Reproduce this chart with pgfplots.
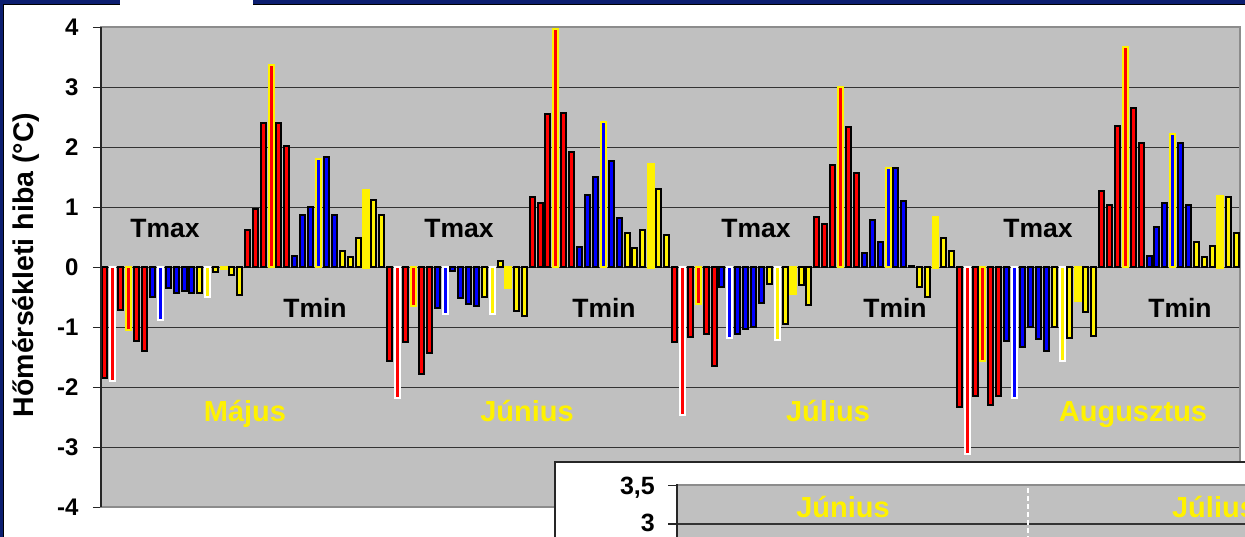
\documentclass[border=0pt]{standalone}
\usepackage{pgfplots}
\pgfplotsset{compat=1.18}
\usetikzlibrary{calc}
\usepackage{fontspec}
\setmainfont{Liberation Sans}
\definecolor{chartgray}{RGB}{192,192,192}
\definecolor{navy}{RGB}{12,30,112}
\definecolor{bordergray}{RGB}{140,140,140}
\begin{document}
\begin{tikzpicture}[x=1pt,y=1pt]
\begin{axis}[
  name=main,
  width=1139pt, height=480pt, scale only axis,
  xmin=-0.5, xmax=143.5, ymin=-4, ymax=4,
  xtick=\empty,
  ytick={-4,-3,-2,-1,0,1,2,3,4},
  yticklabels={-4,-3,-2,-1,0,1,2,3,4},
  ytick pos=left,
  ymajorgrids,
  grid style={line width=1.2pt, black!80},
  axis background/.style={fill=chartgray},
  axis line style={draw=bordergray, line width=2pt},
  tick style={black!85, line width=1.3pt},
  ytick align=outside, major tick length=8pt,
  yticklabel style={font=\bfseries\fontsize{24}{24}\selectfont, anchor=east, xshift=-11pt},
  mybar/.style={ybar, bar width=5pt, bar shift=0pt, line width=2pt},
  clip=true,
]
% red, black border
\addplot[mybar, fill=red, draw=black] coordinates {(0,-1.84)(2,-0.71)(4,-1.23)(5,-1.39)(18,0.62)(19,0.98)(20,2.41)(22,2.41)(23,2.03)(36,-1.56)(38,-1.25)(40,-1.77)(41,-1.42)(54,1.18)(55,1.08)(56,2.56)(58,2.58)(59,1.93)(72,-1.25)(74,-1.16)(76,-1.11)(77,-1.64)(90,0.84)(91,0.73)(92,1.71)(94,2.34)(95,1.57)(108,-2.32)(110,-2.14)(112,-2.29)(113,-2.14)(126,1.27)(127,1.04)(128,2.36)(130,2.66)(131,2.07)};
% red, white border
\addplot[mybar, fill=red, draw=white] coordinates {(1,-1.89)(37,-2.17)(73,-2.46)(109,-3.11)};
% red, yellow border
\addplot[mybar, fill=red, draw=yellow] coordinates {(3,-1.04)(21,3.37)(39,-0.64)(57,3.98)(75,-0.61)(93,3.00)(111,-1.56)(129,3.67)};
% blue, black border
\addplot[mybar, fill=blue, draw=black] coordinates {(6,-0.49)(8,-0.35)(9,-0.42)(10,-0.39)(11,-0.42)(24,0.19)(25,0.88)(26,1.01)(28,1.84)(29,0.88)(42,-0.67)(44,-0.06)(45,-0.51)(46,-0.61)(47,-0.64)(60,0.34)(61,1.21)(62,1.51)(64,1.78)(65,0.82)(78,-0.33)(80,-1.11)(81,-1.02)(82,-0.99)(83,-0.60)(96,0.24)(97,0.79)(98,0.43)(100,1.65)(101,1.11)(114,-1.23)(116,-1.33)(117,-1.00)(118,-1.20)(119,-1.40)(132,0.19)(133,0.67)(134,1.07)(136,2.07)(137,1.04)};
% blue, white border
\addplot[mybar, fill=blue, draw=white] coordinates {(7,-0.87)(43,-0.77)(79,-1.17)(115,-2.18)};
% blue, yellow border
\addplot[mybar, fill=blue, draw=yellow] coordinates {(27,1.81)(63,2.43)(99,1.66)(135,2.23)};
% yellow, black border
\addplot[mybar, fill=yellow, draw=black] coordinates {(12,-0.42)(14,-0.07)(16,-0.13)(17,-0.46)(30,0.27)(31,0.17)(32,0.49)(34,1.13)(35,0.88)(48,-0.50)(50,0.10)(52,-0.72)(53,-0.81)(66,0.58)(67,0.32)(68,0.62)(70,1.31)(71,0.54)(84,-0.27)(86,-0.94)(88,-0.29)(89,-0.62)(102,0.02)(103,-0.33)(104,-0.49)(106,0.49)(107,0.27)(120,-0.99)(122,-1.17)(124,-0.75)(125,-1.14)(138,0.43)(139,0.18)(140,0.36)(142,1.18)(143,0.57)};
% yellow, white border
\addplot[mybar, fill=yellow, draw=white] coordinates {(13,-0.49)(49,-0.78)(85,-1.21)(121,-1.56)};
% yellow, no border
\addplot[mybar, fill=yellow, draw=yellow, line width=2.8pt] coordinates {(15,-0.02)(33,1.29)(51,-0.33)(69,1.71)(87,-0.43)(105,0.83)(123,-0.56)(141,1.18)};
% annotations
\begin{scope}[every node/.style={font=\bfseries\fontsize{26.5}{26.5}\selectfont, anchor=base, inner sep=0pt}]
\node at (axis cs:7.59,0.507) {Tmax};
\node at (axis cs:44.76,0.507) {Tmax};
\node at (axis cs:82.31,0.507) {Tmax};
\node at (axis cs:117.96,0.507) {Tmax};
\node at (axis cs:26.55,-0.827) {Tmin};
\node at (axis cs:63.09,-0.827) {Tmin};
\node at (axis cs:99.88,-0.827) {Tmin};
\node at (axis cs:135.91,-0.827) {Tmin};
\end{scope}
\begin{scope}[every node/.style={font=\bfseries\fontsize{29}{29}\selectfont, text=yellow, anchor=base, inner sep=0pt}]
\node at (axis cs:17.7,-2.57) {Május};
\node at (axis cs:53.36,-2.57) {Június};
\node at (axis cs:91.41,-2.57) {Július};
\node at (axis cs:129.97,-2.57) {Augusztus};
\end{scope}
\coordinate (O) at (rel axis cs:0,0);
\end{axis}
\begin{scope}[shift={($(O)+(-101,-29.5)$)}]
% left axis line
\draw[black!85, line width=2pt] (101,29.5) -- (101,509.5);
% y label
\node[rotate=90, font=\bfseries\fontsize{28.5}{28.5}\selectfont, inner sep=0pt] at (26,272) {Hőmérsékleti hiba (°C)};
% inset (second chart, partly visible)
\filldraw[fill=white, draw=black!85, line width=2pt] (555,75) rectangle (1270,-10);
\fill[chartgray] (677,-10) rectangle (1262,51.5);
\draw[bordergray, line width=2pt] (677,51.5) -- (1262,51.5);
\draw[black!80, line width=1.2pt] (677,13) -- (1262,13);
\draw[black!85, line width=1.3pt] (668,51.5) -- (677,51.5);
\draw[black!85, line width=1.3pt] (668,13) -- (677,13);
\draw[black!85, line width=2pt] (677,-10) -- (677,52.5);
\node[font=\bfseries\fontsize{25}{25}\selectfont, anchor=base east, inner sep=0pt] at (655,42) {3,5};
\node[font=\bfseries\fontsize{25}{25}\selectfont, anchor=base east, inner sep=0pt] at (655,5) {3};
\draw[white, line width=1.2pt, dash pattern=on 5pt off 3pt] (1028,49) -- (1028,-5);
\node[font=\bfseries\fontsize{29}{29}\selectfont, text=yellow, anchor=base, inner sep=0pt] at (843,19) {Június};
\node[font=\bfseries\fontsize{29}{29}\selectfont, text=yellow, anchor=base, inner sep=0pt] at (1214,19) {Július};
% slide decorations
\fill[navy] (0,532.5) rectangle (120,537);
\fill[navy] (253,532.5) rectangle (1245,537);
\draw[black, line width=0.8pt] (0,532.3) -- (120,532.3);
\draw[black, line width=0.8pt] (253,532.3) -- (1245,532.3);
\fill[navy] (0,0) rectangle (3,537);
\draw[black, line width=0.8pt] (3.3,0) -- (3.3,532.5);
\end{scope}
\pgfresetboundingbox
\path[use as bounding box] ($(O)+(-101,-29.5)$) rectangle ($(O)+(1144,507.5)$);
\end{tikzpicture}
\end{document}
